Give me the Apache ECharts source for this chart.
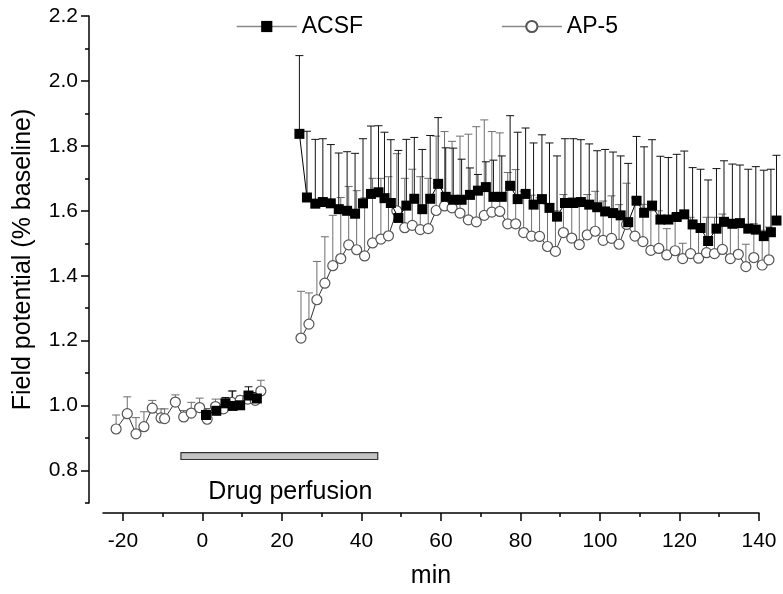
<!DOCTYPE html>
<html>
<head>
<meta charset="utf-8">
<script src="https://cdn.jsdelivr.net/npm/echarts@6/dist/echarts.min.js"></script>
<style>
html,body{margin:0;padding:0;background:#fff;}
#chart{width:783px;height:594px;}
</style>
</head>
<body>
<div id="chart"></div>
<script>
// ---- data ----
var xMajorTicks = [-20, 0, 20, 40, 60, 80, 100, 120, 140];
var xMinorTicks = [-10, 10, 30, 50, 70, 90, 110, 130];
var yMajorTicks = [0.8, 1.0, 1.2, 1.4, 1.6, 1.8, 2.0, 2.2];
var yMinorTicks = [0.7, 0.9, 1.1, 1.3, 1.5, 1.7, 1.9, 2.1];

// ACSF baseline
var acsfBaseTime = [0.9, 3.5, 5.8, 7.6, 9.5, 11.6, 13.7];
var acsfBaseMean = [0.971, 0.984, 1.007, 0.999, 1.001, 1.031, 1.022];
var acsfBaseTop  = [0.990, 1.000, 1.025, 1.045, 1.020, 1.058, 1.040];
// ACSF post
var acsfPostTime = [24.4, 26.3, 28.4, 30.3, 32.3, 34.3, 36.4, 38.4, 40.4, 42.4, 44.3, 45.8, 47.4, 49.3, 51.3, 53.3, 55.3, 57.3, 59.3, 61.2, 63.1, 65.2, 67.3, 69.3, 71.3, 73.2, 75.3, 77.4, 79.3, 81.3, 83.3, 85.4, 87.3, 89.2, 91.2, 93.3, 95.2, 97.3, 99.3, 101.3, 103.3, 105.2, 107.1, 109.2, 111.1, 113.1, 115.2, 117.2, 119.3, 121.2, 123.3, 125.3, 127.2, 129.3, 131.2, 133.3, 135.2, 137.3, 139.2, 141.2, 143.0, 144.4];
var acsfPostMean = [1.837, 1.641, 1.622, 1.627, 1.623, 1.605, 1.600, 1.591, 1.623, 1.652, 1.657, 1.639, 1.624, 1.578, 1.616, 1.637, 1.605, 1.637, 1.683, 1.643, 1.634, 1.634, 1.649, 1.662, 1.673, 1.643, 1.643, 1.677, 1.636, 1.652, 1.619, 1.636, 1.609, 1.582, 1.624, 1.624, 1.627, 1.619, 1.611, 1.598, 1.593, 1.586, 1.565, 1.631, 1.594, 1.616, 1.573, 1.573, 1.581, 1.589, 1.558, 1.547, 1.507, 1.545, 1.566, 1.560, 1.562, 1.545, 1.542, 1.522, 1.534, 1.570];
var acsfPostTop  = [2.078, 1.845, 1.820, 1.822, 1.804, 1.778, 1.782, 1.777, 1.822, 1.861, 1.862, 1.842, 1.819, 1.786, 1.820, 1.826, 1.789, 1.832, 1.887, 1.794, 1.793, 1.759, 1.732, 1.712, 1.751, 1.756, 1.769, 1.893, 1.842, 1.855, 1.809, 1.834, 1.809, 1.769, 1.822, 1.822, 1.819, 1.806, 1.785, 1.789, 1.781, 1.769, 1.746, 1.829, 1.797, 1.819, 1.768, 1.764, 1.774, 1.784, 1.733, 1.728, 1.695, 1.730, 1.754, 1.744, 1.741, 1.728, 1.736, 1.725, 1.728, 1.771];

// AP-5 baseline
var ap5BaseTime = [-21.7, -18.9, -16.7, -14.7, -12.6, -10.4, -9.5, -6.8, -4.7, -2.8, -0.7, 1.2, 3.3, 5.3, 7.4, 9.5, 11.4, 13.3, 14.7];
var ap5BaseMean = [0.928, 0.975, 0.913, 0.935, 0.992, 0.962, 0.960, 1.011, 0.965, 0.977, 0.994, 0.958, 0.997, 0.990, 1.010, 1.016, 1.020, 1.016, 1.045];
var ap5BaseTop  = [0.971, 1.027, 0.963, 0.981, 1.016, 0.990, 0.990, 1.033, 0.985, 1.010, 1.023, 0.975, 1.020, 1.020, 1.045, 1.030, 1.040, 1.040, 1.078];
// AP-5 post
var ap5PostTime = [24.8, 26.8, 28.8, 30.8, 32.8, 34.8, 36.8, 38.8, 40.8, 42.8, 44.9, 46.8, 48.9, 50.9, 52.8, 54.8, 56.8, 58.8, 60.9, 62.8, 64.8, 66.9, 68.9, 70.9, 72.8, 74.8, 76.8, 78.8, 80.8, 82.8, 84.8, 86.8, 88.8, 90.8, 92.9, 94.8, 96.8, 98.8, 100.8, 102.9, 104.8, 106.7, 108.8, 110.8, 112.8, 114.8, 116.8, 118.9, 120.8, 122.8, 124.8, 126.8, 128.8, 130.8, 132.8, 134.8, 136.7, 138.7, 140.8, 142.5];
var ap5PostMean = [1.208, 1.251, 1.326, 1.377, 1.431, 1.453, 1.495, 1.480, 1.461, 1.501, 1.513, 1.523, 1.600, 1.548, 1.555, 1.542, 1.545, 1.601, 1.615, 1.609, 1.593, 1.572, 1.566, 1.586, 1.596, 1.598, 1.560, 1.560, 1.533, 1.522, 1.521, 1.490, 1.475, 1.533, 1.516, 1.496, 1.526, 1.537, 1.509, 1.515, 1.497, 1.558, 1.522, 1.505, 1.478, 1.484, 1.464, 1.477, 1.453, 1.468, 1.454, 1.471, 1.468, 1.481, 1.453, 1.466, 1.428, 1.456, 1.433, 1.449];
var ap5PostTop  = [1.352, 1.347, 1.444, 1.520, 1.586, 1.641, 1.675, 1.662, 1.640, 1.700, 1.700, 1.705, 1.776, 1.700, 1.728, 1.705, 1.700, 1.830, 1.844, 1.814, 1.830, 1.836, 1.859, 1.880, 1.844, 1.840, 1.718, 1.727, 1.660, 1.648, 1.640, 1.620, 1.600, 1.650, 1.640, 1.620, 1.650, 1.660, 1.630, 1.646, 1.619, 1.685, 1.640, 1.620, 1.600, 1.600, 1.545, 1.590, 1.500, 1.580, 1.560, 1.580, 1.580, 1.590, 1.560, 1.570, 1.497, 1.560, 1.540, 1.550];

// drug perfusion period (min) and its drawn band (y values)
var perfusionStart = -5.4, perfusionEnd = 44.1;
var perfusionBand = [0.834, 0.855];
var perfusionLabel = 'Drug perfusion';

// ---- build ----
function pairs(t, v) { return t.map(function (x, i) { return [x, v[i]]; }); }
function triples(t, v, top) { return t.map(function (x, i) { return [x, v[i], top[i]]; }); }

var acsfLine = pairs(acsfBaseTime, acsfBaseMean).concat([[19, '-']], pairs(acsfPostTime, acsfPostMean));
var ap5Line = pairs(ap5BaseTime, ap5BaseMean).concat([[19, '-']], pairs(ap5PostTime, ap5PostMean));
var acsfErr = triples(acsfBaseTime, acsfBaseMean, acsfBaseTop).concat(triples(acsfPostTime, acsfPostMean, acsfPostTop));
var ap5Err = triples(ap5BaseTime, ap5BaseMean, ap5BaseTop).concat(triples(ap5PostTime, ap5PostMean, ap5PostTop));

function errRender(color) {
  return function (params, api) {
    var t = api.value(0), v = api.value(1), top = api.value(2);
    var p0 = api.coord([t, v]), p1 = api.coord([t, top]);
    var w = 4;
    return {
      type: 'group',
      children: [
        { type: 'line', shape: { x1: p0[0], y1: p0[1], x2: p1[0], y2: p1[1] }, style: { stroke: color, lineWidth: 1 } },
        { type: 'line', shape: { x1: p1[0] - w, y1: p1[1], x2: p1[0] + w, y2: p1[1] }, style: { stroke: color, lineWidth: 1 } }
      ]
    };
  };
}

var FONT = '"Liberation Sans", Arial, sans-serif';
var chart = echarts.init(document.getElementById('chart'), null, { renderer: 'canvas' });

var axisCommonX = {
  type: 'value', min: -25, max: 140, position: 'bottom', offset: 10,
  splitLine: { show: false }
};
var axisCommonY = {
  type: 'value', min: 0.7, max: 2.2, position: 'left', offset: 14,
  splitLine: { show: false }
};

chart.setOption({
  animation: false,
  backgroundColor: '#fff',
  textStyle: { fontFamily: FONT },
  grid: { left: 103, right: 24, top: 16, bottom: 87, containLabel: false },
  legend: {
    data: ['ACSF', 'AP-5'],
    left: 231, top: 10,
    itemWidth: 60, itemHeight: 14, itemGap: 138,
    textStyle: { fontSize: 23, color: '#000', fontFamily: FONT },
    lineStyle: { color: '#888', width: 1.5 }
  },
  xAxis: [
    Object.assign({}, axisCommonX, {
      name: 'min', nameLocation: 'middle', nameGap: 51,
      nameTextStyle: { fontSize: 25, color: '#000', fontFamily: FONT },
      axisLine: { show: true, onZero: false, lineStyle: { color: '#000', width: 1.5 } },
      axisTick: { show: true, customValues: xMajorTicks, length: 8, lineStyle: { color: '#000', width: 1.5 } },
      axisLabel: { customValues: xMajorTicks, fontSize: 21, color: '#000', margin: 18, fontFamily: FONT }
    }),
    Object.assign({}, axisCommonX, {
      axisLine: { show: false, onZero: false },
      axisTick: { show: true, customValues: xMinorTicks, length: 4, lineStyle: { color: '#000', width: 1.5 } },
      axisLabel: { show: false }
    })
  ],
  yAxis: [
    Object.assign({}, axisCommonY, {
      name: 'Field potential (% baseline)', nameLocation: 'middle', nameGap: 53,
      nameTextStyle: { fontSize: 25, color: '#000', fontFamily: FONT },
      axisLine: { show: true, onZero: false, lineStyle: { color: '#000', width: 1.5 } },
      axisTick: { show: true, customValues: yMajorTicks, length: 8, lineStyle: { color: '#000', width: 1.5 } },
      axisLabel: { customValues: yMajorTicks, fontSize: 21, color: '#000', margin: 11, fontFamily: FONT,
        formatter: function (v) { return v.toFixed(1); } }
    }),
    Object.assign({}, axisCommonY, {
      axisLine: { show: false, onZero: false },
      axisTick: { show: true, customValues: yMinorTicks, length: 4, lineStyle: { color: '#000', width: 1.5 } },
      axisLabel: { show: false }
    })
  ],
  series: [
    {
      type: 'custom', name: 'perfusion', xAxisIndex: 0, yAxisIndex: 0, clip: false, z: 1,
      data: [[perfusionStart, perfusionEnd, perfusionBand[0], perfusionBand[1]]],
      renderItem: function (params, api) {
        var a = api.coord([api.value(0), api.value(3)]);
        var b = api.coord([api.value(1), api.value(2)]);
        return {
          type: 'group',
          children: [
            { type: 'rect', shape: { x: a[0], y: a[1], width: b[0] - a[0], height: b[1] - a[1] },
              style: { fill: '#c4c4c4', stroke: '#333', lineWidth: 1.2 } },
            { type: 'text', style: { text: perfusionLabel, x: (a[0] + b[0]) / 2 + 11, y: b[1] + 33,
              align: 'center', verticalAlign: 'middle', fontSize: 25, fill: '#000', fontFamily: FONT } }
          ]
        };
      }
    },
    {
      type: 'custom', name: 'AP-5 err', xAxisIndex: 0, yAxisIndex: 0, clip: false, z: 2,
      data: ap5Err, encode: { x: 0, y: [1, 2] }, renderItem: errRender('#6e6e6e')
    },
    {
      type: 'custom', name: 'ACSF err', xAxisIndex: 0, yAxisIndex: 0, clip: false, z: 2,
      data: acsfErr, encode: { x: 0, y: [1, 2] }, renderItem: errRender('#111')
    },
    {
      type: 'line', name: 'AP-5', xAxisIndex: 0, yAxisIndex: 0, clip: false, z: 3,
      data: ap5Line, connectNulls: false,
      symbol: 'circle', symbolSize: 10, showAllSymbol: true,
      lineStyle: { color: '#333', width: 1 },
      itemStyle: { color: '#fff', borderColor: '#555', borderWidth: 1.2 },
      emphasis: { disabled: true }
    },
    {
      type: 'line', name: 'ACSF', xAxisIndex: 0, yAxisIndex: 0, clip: false, z: 4,
      data: acsfLine, connectNulls: false,
      symbol: 'rect', symbolSize: 10, showAllSymbol: true,
      lineStyle: { color: '#000', width: 1 },
      itemStyle: { color: '#000', borderColor: '#000', borderWidth: 0 },
      emphasis: { disabled: true }
    }
  ]
});
</script>
</body>
</html>
